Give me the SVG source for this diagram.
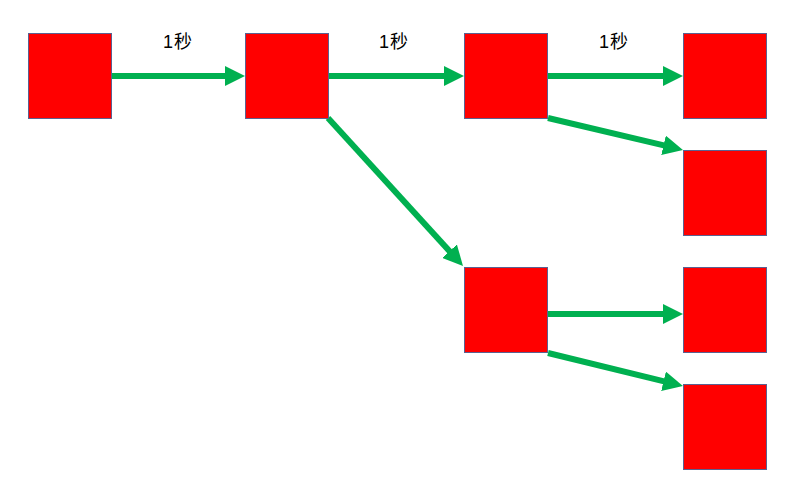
<svg xmlns="http://www.w3.org/2000/svg" width="800" height="494" viewBox="0 0 800 494">
<style>
.box{fill:#FF0000;stroke:#5B6190;stroke-width:1}
.conn{stroke:#00B050;stroke-width:6;fill:none}
.lbl{font-family:"Liberation Sans","Noto Sans CJK SC",sans-serif;font-size:18px;fill:#000;text-anchor:middle;letter-spacing:1px}
</style>
<defs>
<marker id="ah" markerUnits="userSpaceOnUse" markerWidth="20" markerHeight="20" refX="8" refY="10" orient="auto" viewBox="0 0 20 20">
<path d="M0,0 L20,10 L0,20 z" fill="#00B050"/>
</marker>
</defs>
<rect width="800" height="494" fill="#fff"/>
<g id="connectors">
<line class="conn" x1="111" y1="76" x2="233" y2="76" marker-end="url(#ah)"/>
<line class="conn" x1="329" y1="76" x2="452" y2="76" marker-end="url(#ah)"/>
<line class="conn" x1="548" y1="76" x2="671" y2="76" marker-end="url(#ah)"/>
<line class="conn" x1="548" y1="118" x2="671.3" y2="147.2" marker-end="url(#ah)"/>
<line class="conn" x1="328" y1="118" x2="454.9" y2="257.1" marker-end="url(#ah)"/>
<line class="conn" x1="548" y1="314" x2="671" y2="314" marker-end="url(#ah)"/>
<line class="conn" x1="548" y1="353" x2="671.3" y2="383.2" marker-end="url(#ah)"/>
</g>
<g id="labels">
<text class="lbl" x="178" y="48">1秒</text>
<text class="lbl" x="394" y="48">1秒</text>
<text class="lbl" x="614" y="48">1秒</text>
</g>
<g id="n1"><rect class="box" x="28.5" y="33.5" width="83" height="85"/></g>
<g id="n2"><rect class="box" x="245.5" y="33.5" width="83" height="85"/></g>
<g id="n3"><rect class="box" x="464.5" y="33.5" width="83" height="85"/></g>
<g id="n4"><rect class="box" x="683.5" y="33.5" width="83" height="85"/></g>
<g id="n5"><rect class="box" x="683.5" y="150.5" width="83" height="85"/></g>
<g id="n6"><rect class="box" x="464.5" y="267.5" width="83" height="85"/></g>
<g id="n7"><rect class="box" x="683.5" y="267.5" width="83" height="85"/></g>
<g id="n8"><rect class="box" x="683.5" y="384.5" width="83" height="85"/></g>
</svg>
